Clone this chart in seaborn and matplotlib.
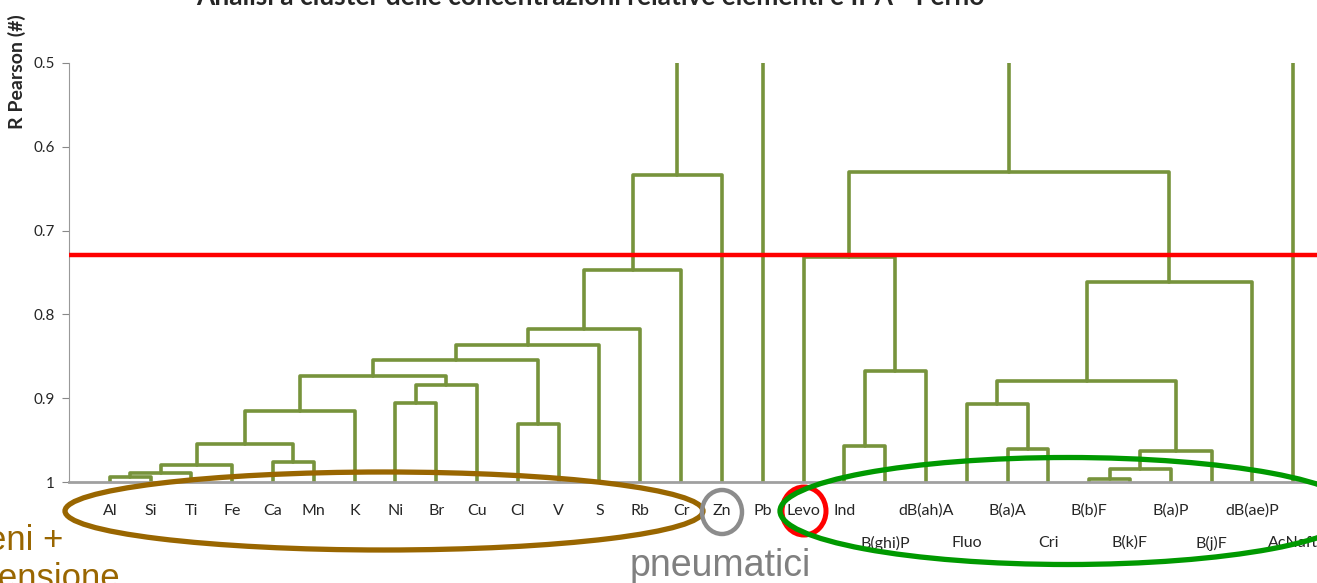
import numpy as np
import pandas as pd
import matplotlib
matplotlib.use("Agg")
import matplotlib.pyplot as plt
import seaborn as sns
from matplotlib.patches import Ellipse

# leaves of the dendrogram, left to right
leaves = ["Al", "Si", "Ti", "Fe", "Ca", "Mn", "K", "Ni", "Br", "Cu", "Cl", "V", "S", "Rb", "Cr",
          "Zn", "Pb", "Levo", "Ind", "B(ghi)P", "dB(ah)A", "Fluo", "B(a)A", "Cri", "B(b)F",
          "B(k)F", "B(a)P", "B(j)F", "dB(ae)P", "AcNaft"]
label_row = [0] * 18 + [0, 1] * 6

# merges: m0, m1, ... in order
merge_left = ["Al", "m0", "m1", "Ca", "m2", "m4", "Ni", "m6", "m5", "Cl", "m8", "m10", "m11",
              "m12", "m13", "Ind", "m15", "Levo", "B(a)A", "Fluo", "B(b)F", "m20", "m21",
              "m19", "m23", "m17"]
merge_right = ["Si", "Ti", "Fe", "Mn", "m3", "K", "Br", "Cu", "m7", "V", "m9", "S", "Rb",
               "Cr", "Zn", "B(ghi)P", "dB(ah)A", "m16", "Cri", "m18", "B(k)F", "B(a)P",
               "B(j)F", "m22", "dB(ae)P", "m24"]
merge_height = [0.994, 0.989, 0.980, 0.976, 0.955, 0.915, 0.906, 0.884, 0.874, 0.931, 0.854,
                0.836, 0.818, 0.747, 0.634, 0.957, 0.867, 0.732, 0.961, 0.907, 0.997, 0.985,
                0.963, 0.880, 0.761, 0.630]
roots = ["m14", "Pb", "m25", "AcNaft"]
cut_level = 0.729
y_ticks = [0.5, 0.6, 0.7, 0.8, 0.9, 1.0]
y_ticklabels = ["0.5", "0.6", "0.7", "0.8", "0.9", "1"]

W, H = 1317, 583
sns.set_style("white")
plt.rcParams["font.family"] = ["Lato", "DejaVu Sans"]

fig = plt.figure(figsize=(W / 100, H / 100), dpi=100)
ax = fig.add_axes([69 / W, (H - 482) / H, 1265 / W, 419 / H])

# build the U-shaped links
pos = {name: i + 1 for i, name in enumerate(leaves)}
hgt = {name: 1.0 for name in leaves}
rows = []
for k, (a, b, h) in enumerate(zip(merge_left, merge_right, merge_height)):
    rows += [(k, pos[a], hgt[a]), (k, pos[a], h), (k, pos[b], h), (k, pos[b], hgt[b])]
    pos[f"m{k}"] = (pos[a] + pos[b]) / 2
    hgt[f"m{k}"] = h
for j, r in enumerate(roots):
    rows += [(100 + j, pos[r], hgt[r]), (100 + j, pos[r], 0.4)]
df = pd.DataFrame(rows, columns=["link", "x", "r"])

sns.lineplot(data=df, x="x", y="r", units="link", estimator=None, sort=False,
             color="#77933C", lw=2.6, ax=ax, legend=False)
ax.axhline(cut_level, color="#FF0000", lw=3.2, zorder=5)

ax.set_xlim(0, 31)
ax.set_ylim(1, 0.5)
ax.set_xticks([])
ax.set_yticks(y_ticks)
ax.set_yticklabels(y_ticklabels, fontsize=11)
ax.set_xlabel("")
ax.set_ylabel("")
ax.tick_params(axis="y", length=5, width=0.8, color="#888888", left=True, pad=5)
for s in ["top", "right"]:
    ax.spines[s].set_visible(False)
ax.spines["left"].set_color("#999999")
ax.spines["left"].set_linewidth(0.8)
ax.spines["bottom"].set_color("#A0A0A0")
ax.spines["bottom"].set_linewidth(2)

for name, row in zip(leaves, label_row):
    ax.annotate(name, xy=(pos[name], 0), xycoords=ax.get_xaxis_transform(),
                xytext=(0, -29 - 32 * row), textcoords="offset pixels",
                ha="center", va="center", fontsize=11.5, annotation_clip=False)

fig.text(590 / W, 1 - 5 / H, "Analisi a cluster delle concentrazioni relative elementi e IPA - Ferno",
         ha="center", va="baseline", fontsize=19, weight="bold")
fig.text(17 / W, 1 - 72 / H, "R Pearson (#)", rotation=90, ha="center", va="center",
         fontsize=14, weight="bold")


def fx(px):
    return px / W


def fy(py):
    return 1 - py / H


fig.patches.append(Ellipse((fx(384), fy(511)), fx(638), 78 / H, fill=False,
                           ec="#996600", lw=3.8, transform=fig.transFigure, figure=fig))
fig.patches.append(Ellipse((fx(722), fy(512)), fx(40), 44 / H, fill=False,
                           ec="#8C8C8C", lw=3.2, transform=fig.transFigure, figure=fig))
fig.patches.append(Ellipse((fx(804), fy(511)), fx(44), 48 / H, fill=False,
                           ec="#FF0000", lw=3.6, transform=fig.transFigure, figure=fig))
fig.patches.append(Ellipse((fx(1068), fy(511)), fx(576), 107 / H, fill=False,
                           ec="#009900", lw=3.8, transform=fig.transFigure, figure=fig))

fig.text(fx(63), fy(550), "Terrigeni +", ha="right", va="baseline", fontsize=25,
         color="#996600", family=["Liberation Sans", "DejaVu Sans"])
fig.text(fx(120), fy(588), "risospensione", ha="right", va="baseline", fontsize=25,
         color="#996600", family=["Liberation Sans", "DejaVu Sans"])
fig.text(fx(720), fy(576), "pneumatici", ha="center", va="baseline", fontsize=27,
         color="#808080", family=["Liberation Sans", "DejaVu Sans"])

fig.savefig("out.png", dpi=100)
